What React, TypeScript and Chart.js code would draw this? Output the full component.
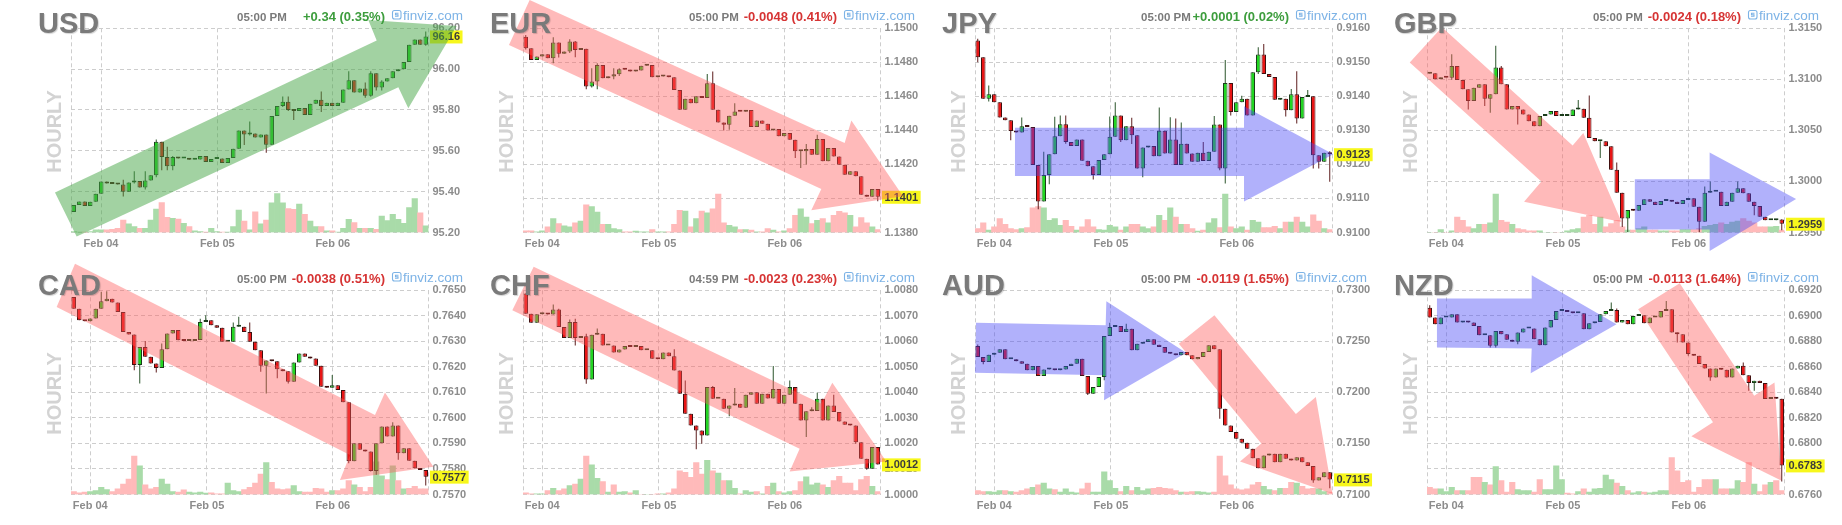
import React, { useEffect, useRef } from 'react';
import { Chart, registerables } from 'chart.js';

Chart.register(...registerables);

// ---------- shared labels ----------
const dayLabels = ['Feb 04', 'Feb 05', 'Feb 06'];
const usdDayTicks = [4.96, 26.1, 47.1];
const fxDayTicks = [3.0, 24.2, 47.1];

// ---------- USD ----------
const usdOpen0 = 95.3;
const usdClose = [95.335, 95.352, 95.33, 95.35, 95.39, 95.45, 95.44, 95.438, 95.435, 95.4, 95.445, 95.452, 95.42, 95.455, 95.48, 95.645, 95.57, 95.525, 95.57, 95.562, 95.562, 95.556, 95.558, 95.575, 95.545, 95.56, 95.562, 95.54, 95.565, 95.61, 95.7, 95.68, 95.685, 95.665, 95.68, 95.63, 95.77, 95.82, 95.84, 95.8, 95.795, 95.81, 95.776, 95.83, 95.85, 95.82, 95.835, 95.82, 95.835, 95.9, 95.945, 95.885, 95.905, 95.87, 95.98, 95.91, 95.94, 95.955, 95.99, 96.0, 96.035, 96.12, 96.145, 96.12, 96.16];
const usdWicks = [[9, 95.458, 95.376], [11, 95.5, 95.44], [13, 95.5, 95.41], [15, 95.655, 95.47], [16, 95.645, 95.505], [17, 95.62, 95.505], [18, 95.575, 95.505], [31, 95.7, 95.629], [32, 95.743, 95.675], [35, 95.68, 95.59], [38, 95.866, 95.815], [39, 95.866, 95.795], [40, 95.8, 95.751], [45, 95.89, 95.79], [50, 95.99, 95.9], [53, 95.935, 95.86], [54, 95.99, 95.865], [55, 95.98, 95.895], [56, 95.945, 95.895], [64, 96.184, 96.115]];
const usdVolume = [3, 1, 1, 3, 8, 8, 8, 10, 13, 38, 26, 18, 13, 13, 38, 71, 91, 46, 43, 41, 28, 18, 5, 3, 1, 13, 3, 1, 1, 18, 68, 35, 8, 63, 26, 38, 90, 118, 90, 73, 70, 86, 55, 35, 18, 18, 5, 5, 1, 13, 40, 30, 13, 13, 13, 10, 50, 36, 55, 40, 28, 76, 103, 60, 20];
const usdTicks = [95.2, 95.4, 95.6, 95.8, 96.0, 96.2];
const usdArrowGreen = [[-3.41, 95.396], [55.08, 96.14], [53.56, 96.241], [69.62, 96.211], [60.83, 95.808], [59.02, 95.911], [0.53, 95.18]];

// ---------- EUR ----------
const eurOpen0 = 1.1495;
const eurClose = [1.14883, 1.14814, 1.14834, 1.14848, 1.14824, 1.14916, 1.1485, 1.14863, 1.14922, 1.14873, 1.1488, 1.14658, 1.14687, 1.14785, 1.14707, 1.14717, 1.1473, 1.1476, 1.14756, 1.14746, 1.14752, 1.1478, 1.14785, 1.14713, 1.14717, 1.1472, 1.14713, 1.14638, 1.14521, 1.14586, 1.1456, 1.146, 1.1459, 1.14677, 1.14521, 1.14447, 1.14433, 1.14486, 1.14511, 1.1451, 1.1452, 1.1442, 1.14458, 1.14439, 1.144, 1.14408, 1.14365, 1.14384, 1.14345, 1.14277, 1.14277, 1.1429, 1.14257, 1.14349, 1.14218, 1.14296, 1.14247, 1.14198, 1.1414, 1.1416, 1.1413, 1.14022, 1.1401, 1.14056, 1.1401];
const eurWicks = [[0, 1.1496, 1.14875], [5, 1.14947, 1.14795], [6, 1.14916, 1.14828], [8, 1.14935, 1.14855], [9, 1.14925, 1.1483], [11, 1.1488, 1.14642], [12, 1.14765, 1.14652], [13, 1.14795, 1.14642], [16, 1.14765, 1.147], [17, 1.14765, 1.1472], [33, 1.14732, 1.1459], [34, 1.14746, 1.14521], [36, 1.14447, 1.144], [37, 1.14486, 1.14404], [38, 1.1456, 1.14486], [49, 1.14345, 1.14238], [50, 1.14285, 1.14179], [51, 1.1432, 1.142], [53, 1.14374, 1.14257], [64, 1.14056, 1.13983]];
const eurVolume = [5, 5, 2, 5, 17, 42, 27, 20, 17, 29, 35, 84, 79, 62, 25, 25, 12, 9, 2, 2, 4, 2, 2, 9, 2, 2, 2, 25, 67, 65, 17, 42, 65, 60, 72, 117, 29, 22, 17, 9, 9, 7, 2, 2, 12, 7, 2, 5, 12, 52, 72, 47, 27, 37, 42, 29, 52, 64, 60, 52, 17, 45, 29, 17, 9];
const eurTicks = [1.138, 1.14, 1.142, 1.144, 1.146, 1.148, 1.15];
const eurArrowPink = [[0.71, 1.15166], [57.98, 1.14326], [59.2, 1.14458], [68.6, 1.14013], [51.92, 1.13931], [53.74, 1.14056], [-3.05, 1.14902]];

// ---------- JPY ----------
const jpyOpen0 = 0.91564;
const jpyClose = [0.91515, 0.91393, 0.91406, 0.91383, 0.91338, 0.9133, 0.91298, 0.91294, 0.91312, 0.9131, 0.91198, 0.91091, 0.91169, 0.9123, 0.91283, 0.91318, 0.91266, 0.91254, 0.91273, 0.91211, 0.91195, 0.91169, 0.91213, 0.9123, 0.91281, 0.91344, 0.91271, 0.91312, 0.91286, 0.91188, 0.9125, 0.91254, 0.91224, 0.91299, 0.91232, 0.91273, 0.91198, 0.91261, 0.91232, 0.91208, 0.91234, 0.9121, 0.91237, 0.91317, 0.91188, 0.91439, 0.91354, 0.91383, 0.91393, 0.91344, 0.91471, 0.91523, 0.91466, 0.91457, 0.9139, 0.91393, 0.91359, 0.91406, 0.91335, 0.91398, 0.914, 0.91227, 0.91208, 0.91234, 0.9123];
const jpyWicks = [[0, 0.91569, 0.915], [2, 0.91432, 0.91385], [6, 0.9133, 0.91271], [8, 0.91338, 0.91294], [11, 0.91198, 0.91068], [12, 0.91237, 0.91115], [13, 0.9123, 0.91142], [14, 0.9134, 0.9123], [15, 0.91344, 0.91283], [16, 0.91344, 0.91261], [19, 0.91271, 0.91211], [21, 0.91195, 0.91156], [24, 0.91341, 0.9123], [25, 0.91383, 0.91281], [26, 0.91344, 0.91266], [28, 0.91337, 0.9126], [30, 0.9125, 0.91162], [33, 0.91367, 0.91224], [35, 0.91339, 0.91232], [36, 0.91335, 0.91198], [37, 0.91323, 0.91198], [41, 0.91266, 0.9121], [43, 0.91342, 0.91237], [44, 0.91317, 0.91183], [45, 0.91507, 0.91144], [46, 0.91439, 0.91344], [48, 0.91402, 0.91383], [51, 0.91544, 0.91466], [52, 0.91554, 0.91466], [56, 0.9139, 0.91341], [57, 0.91422, 0.91359], [58, 0.91474, 0.9132], [60, 0.91419, 0.91398], [61, 0.914, 0.91188], [62, 0.91227, 0.91188], [64, 0.91239, 0.91149]];
const jpyVolume = [12, 29, 7, 17, 42, 25, 12, 9, 12, 15, 75, 79, 75, 37, 42, 22, 37, 19, 7, 17, 39, 17, 9, 7, 22, 17, 7, 17, 25, 25, 17, 12, 17, 52, 37, 75, 47, 25, 25, 12, 4, 7, 29, 42, 15, 117, 17, 12, 17, 7, 37, 32, 15, 15, 19, 12, 32, 32, 47, 32, 17, 54, 35, 12, 9];
const jpyTicks = [0.91, 0.911, 0.912, 0.913, 0.914, 0.915, 0.916];
const jpyArrowBlue = [[6.77, 0.91308], [48.41, 0.91308], [48.41, 0.91371], [64.65, 0.9123], [48.41, 0.91091], [48.41, 0.91166], [6.77, 0.91166]];

// ---------- GBP ----------
const gbpOpen0 = 1.31055;
const gbpClose = [1.3106, 1.31001, 1.31017, 1.31015, 1.3113, 1.30994, 1.30902, 1.30787, 1.30918, 1.30951, 1.3081, 1.30853, 1.31116, 1.30951, 1.30705, 1.30738, 1.30705, 1.30656, 1.3059, 1.30541, 1.3064, 1.30656, 1.30689, 1.3064, 1.3064, 1.3064, 1.30705, 1.30712, 1.30623, 1.30426, 1.30393, 1.30393, 1.30344, 1.30114, 1.2989, 1.29637, 1.2972, 1.29713, 1.29769, 1.29825, 1.29802, 1.29769, 1.29808, 1.29818, 1.29802, 1.29779, 1.29818, 1.29835, 1.29753, 1.29605, 1.2989, 1.299, 1.299, 1.29759, 1.29802, 1.2989, 1.29933, 1.29884, 1.29802, 1.29759, 1.29654, 1.2962, 1.29621, 1.29628, 1.29586];
const gbpWicks = [[4, 1.31247, 1.30995], [7, 1.30902, 1.30705], [10, 1.30951, 1.30738], [11, 1.30853, 1.30672], [12, 1.31329, 1.30853], [13, 1.3113, 1.30951], [16, 1.30738, 1.30557], [27, 1.30797, 1.30705], [29, 1.30843, 1.30426], [31, 1.30393, 1.30229], [34, 1.30186, 1.2989], [35, 1.2989, 1.29555], [36, 1.2972, 1.29506], [49, 1.29753, 1.295], [50, 1.2995, 1.29605], [51, 1.3, 1.2989], [56, 1.29999, 1.2989], [59, 1.29802, 1.2967], [64, 1.2963, 1.29522]];
const gbpVolume = [0, 0, 9, 0, 5, 47, 37, 17, 12, 25, 25, 29, 117, 37, 32, 25, 12, 9, 5, 5, 5, 0, 0, 0, 0, 5, 9, 12, 47, 52, 25, 47, 17, 27, 37, 17, 7, 7, 12, 17, 7, 7, 5, 5, 5, 5, 9, 9, 9, 12, 19, 22, 25, 29, 25, 32, 35, 42, 35, 29, 17, 17, 17, 19, 7];
const gbpTicks = [1.295, 1.3, 1.305, 1.31, 1.315];
const gbpArrowPink = [[2.22, 1.3151], [25.98, 1.30353], [27.92, 1.30475], [34.87, 1.29604], [17.15, 1.29802], [20.3, 1.29999], [-3.64, 1.31165]];
const gbpArrowBlue = [[37.29, 1.30022], [50.89, 1.30022], [50.89, 1.30284], [66.61, 1.29828], [50.89, 1.29319], [50.89, 1.29529], [37.29, 1.29529]];

// ---------- CAD ----------
const cadOpen0 = 0.76474;
const cadClose = [0.76428, 0.76383, 0.76379, 0.7639, 0.76428, 0.76457, 0.76467, 0.76452, 0.76415, 0.76337, 0.76327, 0.76207, 0.76278, 0.7624, 0.76213, 0.76196, 0.76269, 0.76331, 0.76344, 0.76304, 0.76301, 0.76301, 0.76305, 0.76376, 0.76383, 0.76363, 0.76353, 0.76298, 0.76298, 0.76357, 0.76357, 0.76337, 0.76298, 0.76265, 0.76204, 0.76225, 0.76222, 0.76191, 0.76183, 0.76142, 0.76217, 0.76252, 0.7624, 0.76233, 0.76204, 0.76122, 0.76118, 0.76128, 0.76109, 0.76061, 0.7583, 0.75901, 0.75875, 0.75868, 0.75792, 0.75901, 0.75966, 0.75927, 0.7597, 0.75862, 0.75881, 0.75832, 0.75803, 0.75796, 0.7577];
const cadWicks = [[5, 0.76494, 0.76428], [6, 0.76496, 0.76457], [11, 0.76327, 0.76187], [12, 0.76278, 0.76135], [13, 0.76301, 0.7624], [15, 0.76213, 0.76178], [16, 0.76292, 0.76196], [23, 0.76389, 0.76305], [24, 0.76402, 0.76376], [29, 0.76374, 0.76298], [30, 0.76396, 0.76357], [32, 0.76374, 0.76298], [34, 0.76265, 0.76181], [35, 0.76225, 0.76096], [37, 0.76222, 0.76155], [39, 0.76183, 0.76135], [47, 0.76168, 0.76118], [50, 0.76061, 0.75822], [54, 0.75868, 0.7579], [55, 0.75901, 0.75777], [58, 0.75983, 0.75927], [59, 0.7597, 0.75836], [64, 0.75796, 0.75735]];
const cadVolume = [9, 5, 7, 9, 12, 22, 15, 9, 17, 32, 47, 117, 87, 29, 17, 22, 47, 32, 9, 7, 14, 7, 5, 7, 4, 5, 2, 2, 35, 12, 9, 15, 22, 35, 62, 97, 37, 17, 15, 17, 27, 9, 7, 7, 19, 17, 7, 12, 12, 17, 42, 29, 22, 9, 22, 99, 57, 45, 87, 42, 17, 19, 25, 17, 17];
const cadTicks = [0.757, 0.758, 0.759, 0.76, 0.761, 0.762, 0.763, 0.764, 0.765];
const cadArrowPink = [[0.23, 0.76604], [54.77, 0.76011], [56.59, 0.761], [65.38, 0.75809], [48.41, 0.75757], [50.23, 0.75855], [-3.11, 0.76435]];

// ---------- CHF ----------
const chfOpen0 = 1.00787;
const chfClose = [1.00708, 1.00673, 1.00706, 1.00708, 1.00705, 1.00725, 1.00656, 1.00613, 1.00676, 1.00613, 1.0062, 1.00451, 1.00626, 1.0063, 1.00584, 1.00584, 1.00556, 1.00568, 1.00582, 1.00578, 1.00582, 1.00565, 1.00565, 1.00532, 1.0053, 1.00556, 1.00542, 1.00486, 1.00395, 1.00316, 1.0027, 1.00251, 1.00231, 1.00421, 1.00375, 1.00375, 1.00336, 1.00349, 1.00356, 1.0034, 1.00391, 1.00401, 1.00356, 1.00395, 1.00376, 1.00413, 1.00356, 1.00391, 1.00421, 1.00356, 1.0029, 1.00326, 1.00327, 1.00375, 1.0029, 1.00349, 1.00323, 1.00286, 1.00273, 1.0027, 1.00205, 1.0014, 1.00101, 1.00186, 1.00118];
const chfWicks = [[5, 1.00744, 1.00705], [6, 1.00728, 1.00656], [8, 1.00686, 1.00613], [9, 1.00689, 1.00584], [11, 1.0063, 1.00434], [13, 1.0065, 1.00626], [27, 1.00569, 1.00486], [29, 1.00447, 1.00316], [31, 1.0027, 1.00177], [32, 1.00251, 1.00199], [34, 1.00425, 1.00375], [37, 1.00349, 1.00307], [38, 1.00417, 1.00349], [45, 1.00503, 1.00376], [48, 1.00447, 1.00391], [51, 1.00326, 1.00225], [52, 1.00342, 1.00326], [53, 1.00399, 1.00327], [56, 1.00391, 1.00323], [60, 1.0027, 1.00199], [62, 1.0014, 1.00097]];
const chfVolume = [5, 2, 2, 2, 12, 19, 12, 17, 27, 32, 47, 117, 90, 49, 39, 7, 29, 7, 9, 5, 12, 0, 0, 0, 2, 2, 5, 17, 72, 67, 52, 97, 62, 104, 72, 65, 42, 42, 19, 2, 12, 7, 9, 2, 25, 35, 9, 5, 9, 12, 39, 54, 29, 35, 29, 22, 42, 55, 35, 35, 12, 45, 55, 25, 9];
const chfTicks = [1.0, 1.001, 1.002, 1.003, 1.004, 1.005, 1.006, 1.007, 1.008];
const chfArrowPink = [[1.44, 1.00892], [53.74, 1.00356], [55.74, 1.00438], [65.56, 1.00129], [47.98, 1.0009], [49.8, 1.00179], [-2.44, 1.00722]];

// ---------- AUD ----------
const audOpen0 = 0.72454;
const audClose = [0.72346, 0.72297, 0.72369, 0.72389, 0.72422, 0.72324, 0.72324, 0.72304, 0.72281, 0.72216, 0.72258, 0.7216, 0.72225, 0.7223, 0.72216, 0.72225, 0.72258, 0.72281, 0.7233, 0.7216, 0.71987, 0.72052, 0.7215, 0.72552, 0.7264, 0.7265, 0.72591, 0.72624, 0.72412, 0.72477, 0.72493, 0.7252, 0.72467, 0.72444, 0.72389, 0.72379, 0.72363, 0.72395, 0.72363, 0.72324, 0.72346, 0.72395, 0.72461, 0.72422, 0.7184, 0.71676, 0.71611, 0.71546, 0.71507, 0.71448, 0.71356, 0.71258, 0.71382, 0.71399, 0.71317, 0.71399, 0.7135, 0.71333, 0.71366, 0.71317, 0.71278, 0.71137, 0.7117, 0.71219, 0.71148];
const audWicks = [[0, 0.7247, 0.72346], [1, 0.72346, 0.72275], [19, 0.7233, 0.7216], [20, 0.7216, 0.71974], [22, 0.7215, 0.72085], [23, 0.72552, 0.72118], [24, 0.72683, 0.72552], [27, 0.72673, 0.72591], [44, 0.72422, 0.71742], [61, 0.71278, 0.71114], [64, 0.71219, 0.71062]];
const audVolume = [12, 9, 9, 7, 12, 12, 9, 7, 12, 17, 22, 29, 35, 17, 15, 7, 17, 7, 5, 17, 35, 7, 7, 69, 42, 19, 9, 25, 12, 22, 12, 17, 19, 22, 19, 17, 12, 7, 7, 9, 9, 7, 5, 7, 117, 57, 29, 17, 14, 17, 29, 37, 25, 15, 12, 19, 19, 37, 35, 25, 17, 19, 17, 9, 7];
const audTicks = [0.71, 0.715, 0.72, 0.725, 0.73];
const audArrowBlue = [[-0.32, 0.72683], [23.26, 0.72657], [23.38, 0.72892], [37.89, 0.72389], [22.96, 0.71922], [23.08, 0.72167], [-0.5, 0.72193]];
const audArrowPink = [[43.03, 0.72755], [57.84, 0.71788], [61.47, 0.71954], [64.49, 0.71007], [47.69, 0.71324], [51.56, 0.715], [36.56, 0.72477]];

// ---------- NZD ----------
const nzdOpen0 = 0.69064;
const nzdClose = [0.68986, 0.68934, 0.68986, 0.68986, 0.69012, 0.68947, 0.68952, 0.68947, 0.68921, 0.68848, 0.68848, 0.68765, 0.68882, 0.68856, 0.68812, 0.68796, 0.68869, 0.689, 0.689, 0.68817, 0.6877, 0.68908, 0.68968, 0.69038, 0.69046, 0.6903, 0.6902, 0.6902, 0.68895, 0.68942, 0.68952, 0.69012, 0.69038, 0.69046, 0.68947, 0.68968, 0.68934, 0.68999, 0.69004, 0.68942, 0.68986, 0.68986, 0.69038, 0.69051, 0.68869, 0.68856, 0.68791, 0.687, 0.68687, 0.68622, 0.68588, 0.68517, 0.68588, 0.68577, 0.68517, 0.68588, 0.68608, 0.68535, 0.68473, 0.68491, 0.68473, 0.68348, 0.68356, 0.6835, 0.67828];
const nzdWicks = [[0, 0.69083, 0.68986], [11, 0.68848, 0.68752], [12, 0.68882, 0.68752], [16, 0.68869, 0.68778], [33, 0.69104, 0.69038], [34, 0.69057, 0.68947], [43, 0.69117, 0.69038], [45, 0.68869, 0.68791], [47, 0.687, 0.68687], [51, 0.68588, 0.68491], [57, 0.68635, 0.68535], [58, 0.68535, 0.68413], [59, 0.68491, 0.68413], [64, 0.6835, 0.67702]];
const nzdVolume = [22, 17, 17, 9, 22, 12, 12, 12, 52, 52, 37, 29, 85, 42, 7, 37, 15, 12, 12, 7, 45, 15, 15, 87, 45, 4, 2, 9, 17, 7, 17, 19, 59, 45, 35, 25, 12, 5, 9, 7, 5, 7, 12, 12, 112, 72, 37, 42, 7, 22, 45, 45, 45, 17, 17, 17, 42, 37, 97, 32, 9, 29, 37, 42, 12];
const nzdTicks = [0.676, 0.678, 0.68, 0.682, 0.684, 0.686, 0.688, 0.69, 0.692];
const nzdArrowBlue = [[1.31, 0.69135], [18.54, 0.69135], [18.54, 0.69317], [33.96, 0.68934], [18.36, 0.68551], [18.54, 0.68744], [1.31, 0.68752]];
const nzdArrowPink = [[45.45, 0.69255], [58.99, 0.68374], [62.68, 0.68478], [63.89, 0.67709], [47.57, 0.68056], [51.5, 0.68166], [37.89, 0.69051]];

// ---------- styles ----------
const FONT = '"Liberation Sans", Arial, Helvetica, sans-serif';
const GRID = '#cdcdcd';
const AX_TEXT = '#8c8c8c';
const BODY_UP = '#22d622';
const BODY_DN = '#e81515';
const EDGE_UP = '#1b3d1b';
const EDGE_DN = '#401010';
const WICK_UP = '#2b552b';
const WICK_DN = '#5c1c1c';
const VOL_UP = '#a9dba9';
const VOL_DN = '#ffbaba';
const ARROW = {
  green: 'rgba(70,165,70,0.5)',
  pink: 'rgba(255,90,90,0.42)',
  blue: 'rgba(70,70,245,0.42)',
};

type Panel = {
  title: string; time: string; change: string; up: boolean;
  open0: number; close: number[]; wicks: number[][]; volume: number[];
  ticks: number[]; dec: number; dayTicks: number[];
  arrows: { color: string; pts: number[][] }[];
};

const panels: Panel[] = [
  { title: 'USD', time: '05:00 PM', change: '+0.34 (0.35%)', up: true, open0: usdOpen0, close: usdClose, wicks: usdWicks, volume: usdVolume, ticks: usdTicks, dec: 2, dayTicks: usdDayTicks, arrows: [{ color: ARROW.green, pts: usdArrowGreen }] },
  { title: 'EUR', time: '05:00 PM', change: '-0.0048 (0.41%)', up: false, open0: eurOpen0, close: eurClose, wicks: eurWicks, volume: eurVolume, ticks: eurTicks, dec: 4, dayTicks: fxDayTicks, arrows: [{ color: ARROW.pink, pts: eurArrowPink }] },
  { title: 'JPY', time: '05:00 PM', change: '+0.0001 (0.02%)', up: true, open0: jpyOpen0, close: jpyClose, wicks: jpyWicks, volume: jpyVolume, ticks: jpyTicks, dec: 4, dayTicks: fxDayTicks, arrows: [{ color: ARROW.blue, pts: jpyArrowBlue }] },
  { title: 'GBP', time: '05:00 PM', change: '-0.0024 (0.18%)', up: false, open0: gbpOpen0, close: gbpClose, wicks: gbpWicks, volume: gbpVolume, ticks: gbpTicks, dec: 4, dayTicks: fxDayTicks, arrows: [{ color: ARROW.pink, pts: gbpArrowPink }, { color: ARROW.blue, pts: gbpArrowBlue }] },
  { title: 'CAD', time: '05:00 PM', change: '-0.0038 (0.51%)', up: false, open0: cadOpen0, close: cadClose, wicks: cadWicks, volume: cadVolume, ticks: cadTicks, dec: 4, dayTicks: fxDayTicks, arrows: [{ color: ARROW.pink, pts: cadArrowPink }] },
  { title: 'CHF', time: '04:59 PM', change: '-0.0023 (0.23%)', up: false, open0: chfOpen0, close: chfClose, wicks: chfWicks, volume: chfVolume, ticks: chfTicks, dec: 4, dayTicks: fxDayTicks, arrows: [{ color: ARROW.pink, pts: chfArrowPink }] },
  { title: 'AUD', time: '05:00 PM', change: '-0.0119 (1.65%)', up: false, open0: audOpen0, close: audClose, wicks: audWicks, volume: audVolume, ticks: audTicks, dec: 4, dayTicks: fxDayTicks, arrows: [{ color: ARROW.blue, pts: audArrowBlue }, { color: ARROW.pink, pts: audArrowPink }] },
  { title: 'NZD', time: '05:00 PM', change: '-0.0113 (1.64%)', up: false, open0: nzdOpen0, close: nzdClose, wicks: nzdWicks, volume: nzdVolume, ticks: nzdTicks, dec: 4, dayTicks: fxDayTicks, arrows: [{ color: ARROW.blue, pts: nzdArrowBlue }, { color: ARROW.pink, pts: nzdArrowPink }] },
];

const CW = 480;
const CH = 262;

function buildChart(canvas: HTMLCanvasElement, p: Panel) {
  const n = p.close.length;
  const opens = p.close.map((c, i) => (i === 0 ? p.open0 : p.close[i - 1]));
  const up = p.close.map((c, i) => c >= opens[i]);
  const wickMap = new Map<number, number[]>();
  p.wicks.forEach((w) => wickMap.set(w[0], w));
  const bodies = p.close.map((c, i) => ({ x: i, y: [opens[i], c] }));
  const wickData = p.close.map((c, i) => {
    const top = Math.max(opens[i], c);
    const bot = Math.min(opens[i], c);
    const w = wickMap.get(i);
    return { x: i, y: [w ? Math.min(w[2], bot) : bot, w ? Math.max(w[1], top) : top] };
  });
  const vol = p.volume.map((v, i) => ({ x: i, y: v }));
  const yMin = p.ticks[0];
  const yMax = p.ticks[p.ticks.length - 1];
  const xTicks = [-0.5, ...p.dayTicks, n - 0.5];

  const overlay = {
    id: 'overlay' + p.title,
    afterDatasetsDraw(chart: any) {
      const ctx = chart.ctx;
      const ys = chart.scales.y;
      const last = p.close[n - 1];
      const txt = last.toFixed(p.dec);
      const yy = ys.getPixelForValue(last) + 0.5;
      ctx.save();
      ctx.font = `bold 11px ${FONT}`;
      const w = ctx.measureText(txt).width;
      const x0 = chart.chartArea.right + 1.5;
      ctx.fillStyle = '#f7f71c';
      ctx.fillRect(x0, yy - 6.5, w + 5, 13);
      ctx.fillStyle = '#3b3b3b';
      ctx.textBaseline = 'middle';
      ctx.textAlign = 'left';
      ctx.fillText(txt, x0 + 2.5, yy + 0.5);
      ctx.restore();
    },
    afterDraw(chart: any) {
      const ctx = chart.ctx;
      const xs = chart.scales.x;
      const ys = chart.scales.y;
      ctx.save();
      // trend arrows
      p.arrows.forEach((a) => {
        ctx.beginPath();
        a.pts.forEach((pt, k) => {
          const X = xs.getPixelForValue(pt[0]);
          const Y = ys.getPixelForValue(pt[1]);
          if (k === 0) ctx.moveTo(X, Y); else ctx.lineTo(X, Y);
        });
        ctx.closePath();
        ctx.fillStyle = a.color;
        ctx.fill();
      });
      // HOURLY
      ctx.save();
      ctx.translate(55.5, 131.5);
      ctx.rotate(-Math.PI / 2);
      ctx.font = `bold 20px ${FONT}`;
      ctx.fillStyle = '#d3d3d3';
      ctx.textAlign = 'center';
      ctx.textBaseline = 'middle';
      ctx.fillText('HOURLY', 0, 0);
      ctx.restore();
      // title
      ctx.textAlign = 'left';
      ctx.textBaseline = 'alphabetic';
      ctx.font = `bold 29px ${FONT}`;
      ctx.shadowColor = 'rgba(0,0,0,0.18)';
      ctx.shadowOffsetX = 1;
      ctx.shadowOffsetY = 1;
      ctx.shadowBlur = 1;
      ctx.fillStyle = '#7a7a7a';
      ctx.fillText(p.title, 38, 33);
      ctx.shadowColor = 'transparent';
      // time
      ctx.font = `bold 11.5px ${FONT}`;
      ctx.fillStyle = '#7a7a7a';
      ctx.fillText(p.time, 237, 20.7);
      // change
      ctx.font = `bold 13px ${FONT}`;
      ctx.fillStyle = p.up ? '#3d9d3d' : '#d63434';
      ctx.textAlign = 'right';
      ctx.fillText(p.change, 385, 20.7);
      // finviz
      ctx.strokeStyle = '#7db3e6';
      ctx.lineWidth = 1.1;
      ctx.beginPath();
      const bx = 392.5, by = 10.5, bs = 8.5, r = 2;
      ctx.moveTo(bx + r, by);
      ctx.lineTo(bx + bs - r, by);
      ctx.quadraticCurveTo(bx + bs, by, bx + bs, by + r);
      ctx.lineTo(bx + bs, by + bs - r);
      ctx.quadraticCurveTo(bx + bs, by + bs, bx + bs - r, by + bs);
      ctx.lineTo(bx + r, by + bs);
      ctx.quadraticCurveTo(bx, by + bs, bx, by + bs - r);
      ctx.lineTo(bx, by + r);
      ctx.quadraticCurveTo(bx, by, bx + r, by);
      ctx.stroke();
      ctx.beginPath();
      ctx.moveTo(bx + 6, by + 2.8);
      ctx.lineTo(bx + 3, by + 2.8);
      ctx.lineTo(bx + 3, by + 4.3);
      ctx.lineTo(bx + 5.5, by + 4.3);
      ctx.lineTo(bx + 5.5, by + 5.8);
      ctx.lineTo(bx + 2.5, by + 5.8);
      ctx.stroke();
      ctx.font = `13.5px ${FONT}`;
      ctx.fillStyle = '#7db3e6';
      ctx.textAlign = 'left';
      ctx.fillText('finviz.com', 403, 20);
      ctx.restore();
    },
  };

  const tickFont = { family: FONT, size: 11, weight: 'bold' as const };

  return new Chart(canvas, {
    type: 'bar',
    data: {
      datasets: [
        {
          label: 'volume', data: vol as any, yAxisID: 'yv',
          backgroundColor: up.map((u) => (u ? VOL_UP : VOL_DN)),
          barPercentage: 1, categoryPercentage: 1, grouped: false, order: 3, borderWidth: 0,
        } as any,
        {
          label: 'wick', data: wickData as any, yAxisID: 'y',
          backgroundColor: up.map((u) => (u ? WICK_UP : WICK_DN)),
          maxBarThickness: 1, barPercentage: 0.5, categoryPercentage: 1, grouped: false, order: 2, borderWidth: 0,
        } as any,
        {
          label: 'body', data: bodies as any, yAxisID: 'y',
          backgroundColor: up.map((u) => (u ? BODY_UP : BODY_DN)),
          borderColor: up.map((u) => (u ? EDGE_UP : EDGE_DN)),
          borderWidth: 1, borderSkipped: false, barPercentage: 0.82, categoryPercentage: 1,
          grouped: false, order: 1, minBarLength: 2,
        } as any,
      ],
    },
    options: {
      responsive: false,
      maintainAspectRatio: false,
      animation: false,
      devicePixelRatio: 1,
      events: [],
      layout: { padding: { left: 71, top: 28.3, right: 0, bottom: 0 } },
      plugins: { legend: { display: false }, tooltip: { enabled: false }, title: { display: false } },
      scales: {
        x: {
          type: 'linear', min: -0.5, max: n - 0.5, offset: false,
          grid: { color: GRID, lineWidth: 1, drawTicks: false, offset: false },
          border: { display: false, dash: [4, 3] },
          afterBuildTicks: (s: any) => { s.ticks = xTicks.map((v) => ({ value: v })); },
          afterFit: (s: any) => { s.height = CH - 232.5; },
          ticks: {
            autoSkip: false, maxRotation: 0, minRotation: 0, padding: 5, color: AX_TEXT, font: tickFont,
            callback: (v: any) => { const k = p.dayTicks.indexOf(Number(v)); return k >= 0 ? dayLabels[k] : ''; },
          },
        },
        y: {
          type: 'linear', position: 'right', min: yMin, max: yMax,
          grid: { color: GRID, lineWidth: 1, drawTicks: false },
          border: { display: false, dash: [4, 3] },
          afterBuildTicks: (s: any) => { s.ticks = p.ticks.map((v) => ({ value: v })); },
          afterFit: (s: any) => { s.width = CW - 428.5; },
          ticks: {
            autoSkip: false, padding: 4, color: AX_TEXT, font: tickFont,
            callback: (v: any) => Number(v).toFixed(p.dec),
          },
        },
        yv: { type: 'linear', display: false, min: 0, max: 620 },
      },
    } as any,
    plugins: [overlay],
  });
}

export default function App() {
  const refs = useRef<(HTMLCanvasElement | null)[]>([]);
  useEffect(() => {
    const charts = panels.map((p, k) => buildChart(refs.current[k] as HTMLCanvasElement, p));
    return () => charts.forEach((c) => c.destroy());
  }, []);
  return (
    <div style={{ position: 'absolute', left: 0, top: 0, width: 1842, height: 525, background: '#ffffff', overflow: 'hidden' }}>
      {panels.map((p, k) => (
        <canvas
          key={p.title}
          ref={(el) => { refs.current[k] = el; }}
          width={CW}
          height={CH}
          style={{ position: 'absolute', left: 452 * (k % 4), top: 262 * Math.floor(k / 4), width: CW, height: CH }}
        />
      ))}
    </div>
  );
}
